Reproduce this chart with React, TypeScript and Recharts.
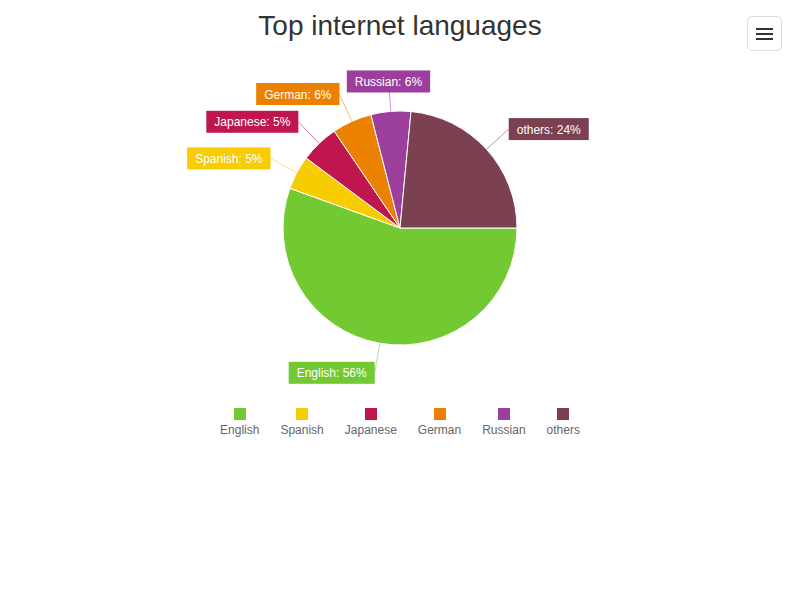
import { PieChart, Pie, Cell, Legend } from "recharts";

const languages = ["English", "Spanish", "Japanese", "German", "Russian", "others"];
const shares = [55.5, 4.7, 5.3, 5.5, 5.5, 23.5];
const colors = ["#72c932", "#f7cc00", "#bf1650", "#ec8000", "#9c3f9c", "#7c4150"];

const data = languages.map((name, i) => ({ name, value: shares[i] }));

const RADIAN = Math.PI / 180;
const FONT = "12px 'Liberation Sans', Arial, sans-serif";

let canvas: HTMLCanvasElement | null = null;
function textWidth(s: string) {
  if (!canvas) canvas = document.createElement("canvas");
  const ctx = canvas.getContext("2d");
  if (!ctx) return s.length * 6;
  ctx.font = FONT;
  return ctx.measureText(s).width;
}

function renderLabel(props: any) {
  const { cx, cy, midAngle, outerRadius, index, value, name } = props;
  const cos = Math.cos(-midAngle * RADIAN);
  const sin = Math.sin(-midAngle * RADIAN);
  const ex = cx + outerRadius * cos;
  const ey = cy + outerRadius * sin;
  const mx = cx + (outerRadius + 20) * cos;
  const my = cy + (outerRadius + 20) * sin;
  const ax = cx + (outerRadius + 30) * cos;
  const ay = cy + (outerRadius + 30) * sin;
  const text = `${name}: ${Math.round(value)}%`;
  const w = textWidth(text) + 16;
  const h = 22;
  let bx: number;
  let ly = ay;
  if (Math.abs(cos) < 0.15) {
    bx = ax - w / 2;
    ly = ay + (sin < 0 ? h / 2 : -h / 2);
  } else if (cos < 0) {
    bx = ax - w;
  } else {
    bx = ax;
  }
  const color = colors[index];
  return (
    <g>
      <polyline
        points={`${ex},${ey} ${mx},${my} ${ax},${ly}`}
        fill="none"
        stroke={color}
        strokeOpacity={0.55}
        strokeWidth={1}
      />
      <rect x={bx} y={ay - h / 2} width={w} height={h} fill={color} />
      <text
        x={bx + w / 2}
        y={ay + 4.5}
        textAnchor="middle"
        fill="#ffffff"
        fontSize={12}
        fontFamily="'Liberation Sans', Arial, sans-serif"
      >
        {text}
      </text>
    </g>
  );
}

function LegendContent() {
  return (
    <div style={{ display: "flex", justifyContent: "center", gap: 21 }}>
      {languages.map((name, i) => (
        <div key={name} style={{ display: "flex", flexDirection: "column", alignItems: "center" }}>
          <div style={{ width: 12, height: 12, background: colors[i] }} />
          <div style={{ font: FONT, color: "#666666", marginTop: 3 }}>{name}</div>
        </div>
      ))}
    </div>
  );
}

export default function App() {
  return (
    <div
      style={{
        position: "absolute",
        left: 0,
        top: 0,
        width: 800,
        height: 600,
        background: "#fff",
        fontFamily: "'Liberation Sans', Arial, sans-serif",
      }}
    >
      <div
        style={{
          position: "absolute",
          top: 10,
          left: 0,
          width: 800,
          textAlign: "center",
          fontSize: 28,
          color: "#333333",
        }}
      >
        Top internet languages
      </div>
      <div
        style={{
          position: "absolute",
          left: 747,
          top: 16,
          width: 35,
          height: 35,
          border: "1px solid #dddddd",
          borderRadius: 5,
          boxSizing: "border-box",
          background: "#fff",
        }}
      >
        {[11, 16, 21].map((t) => (
          <div
            key={t}
            style={{ position: "absolute", left: 8, top: t, width: 17, height: 2, background: "#333" }}
          />
        ))}
      </div>
      <PieChart
        width={800}
        height={600}
        margin={{ top: 0, right: 0, bottom: 0, left: 0 }}
        style={{ position: "absolute", left: 0, top: 0 }}
      >
        <Pie
          data={data}
          dataKey="value"
          nameKey="name"
          cx={400}
          cy={228}
          outerRadius={117}
          startAngle={0}
          endAngle={-360}
          stroke="#ffffff"
          strokeWidth={1}
          label={renderLabel}
          labelLine={false}
          isAnimationActive={false}
        >
          {data.map((d, i) => (
            <Cell key={d.name} fill={colors[i]} />
          ))}
        </Pie>
        <Legend
          content={<LegendContent />}
          wrapperStyle={{ position: "absolute", top: 408, left: 0, width: 800 }}
        />
      </PieChart>
    </div>
  );
}
